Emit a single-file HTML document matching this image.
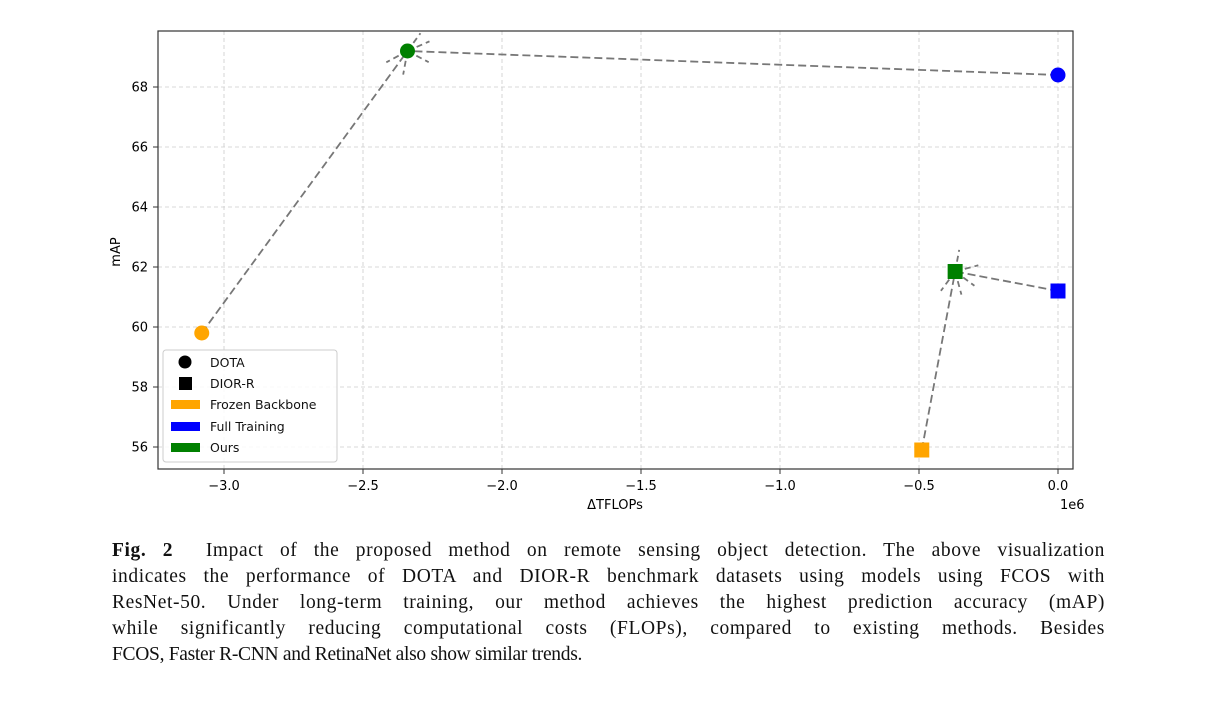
<!DOCTYPE html>
<html><head><meta charset="utf-8"><style>
body{margin:0;background:#fff;width:1220px;height:714px;overflow:hidden;position:relative}
svg{position:absolute;left:0;top:0}
#cap{position:absolute;left:112px;top:538px;width:993px;font-family:"Liberation Serif",serif;font-size:19.5px;line-height:26px;color:#111}
#cap div{text-align:justify;text-align-last:justify;white-space:nowrap;letter-spacing:0.6px}
#cap div.last{text-align-last:left;letter-spacing:-0.3px}
</style></head><body>
<svg width="1220" height="540">
<g id="grid"></g><g id="ticks"></g><g id="lines"></g><g id="marks"></g>
<rect x="158" y="31" width="915" height="438" fill="none" stroke="#333" stroke-width="1.2"/>
<text x="615" y="509" text-anchor="middle" font-family="DejaVu Sans,sans-serif" font-size="13">ΔTFLOPs</text>
<text x="120" y="252" text-anchor="middle" font-family="DejaVu Sans,sans-serif" font-size="13" transform="rotate(-90 120 252)">mAP</text>
<text x="1060" y="509" font-family="DejaVu Sans,sans-serif" font-size="13">1e6</text>
<g>
<rect x="163" y="350" width="174" height="112" rx="3" fill="#fff" fill-opacity="0.85" stroke="#ccc"/>
<circle cx="185" cy="362" r="6.5" fill="#000"/>
<rect x="179" y="377" width="13" height="13" fill="#000"/>
<rect x="171" y="400" width="29" height="9" fill="orange"/>
<rect x="171" y="422" width="29" height="9" fill="blue"/>
<rect x="171" y="443" width="29" height="9" fill="green"/>
<g font-family="DejaVu Sans,sans-serif" font-size="12.5" fill="#111">
<text x="210" y="367">DOTA</text><text x="210" y="388">DIOR-R</text><text x="210" y="409">Frozen Backbone</text><text x="210" y="431">Full Training</text><text x="210" y="452">Ours</text></g>
</g>
</svg>
<div id="cap">
<div><b>Fig. 2</b>&nbsp; Impact of the proposed method on remote sensing object detection. The above visualization</div>
<div>indicates the performance of DOTA and DIOR-R benchmark datasets using models using FCOS with</div>
<div>ResNet-50. Under long-term training, our method achieves the highest prediction accuracy (mAP)</div>
<div>while significantly reducing computational costs (FLOPs), compared to existing methods. Besides</div>
<div class="last">FCOS, Faster R-CNN and RetinaNet also show similar trends.</div>
</div>
<script>
const xTicks=[-3.0,-2.5,-2.0,-1.5,-1.0,-0.5,0.0];
const xTickLabels=["−3.0","−2.5","−2.0","−1.5","−1.0","−0.5","0.0"];
const yTicks=[56,58,60,62,64,66,68];
const methods=["Frozen Backbone","Ours","Full Training"];
const colors=["orange","green","blue"];
const dotaX=[-3.08,-2.34,0.0];
const dotaY=[59.8,69.2,68.4];
const diorX=[-0.49,-0.37,0.0];
const diorY=[55.9,61.85,61.2];
const sx=v=>1058+v*278;
const sy=v=>87+(68-v)*30;
const NS="http://www.w3.org/2000/svg";
function mk(p,t,a){const e=document.createElementNS(NS,t);for(const k in a)e.setAttribute(k,a[k]);document.getElementById(p).appendChild(e);return e;}
xTicks.forEach((v,i)=>{
 const g=mk('grid','line',{x1:sx(v),x2:sx(v),y1:31,y2:469,stroke:'#ccc','stroke-dasharray':'4,3','stroke-width':0.8});
 
 
 mk('ticks','line',{x1:sx(v),x2:sx(v),y1:469,y2:474,stroke:'#333'});
 const t=mk('ticks','text',{x:sx(v),y:490,'text-anchor':'middle','font-family':'DejaVu Sans,sans-serif','font-size':13});
 t.textContent=xTickLabels[i];
 
 
});
yTicks.forEach(v=>{
 const g=mk('grid','line',{x1:158,x2:1073,y1:sy(v),y2:sy(v),stroke:'#ccc','stroke-dasharray':'4,3','stroke-width':0.8});
 
 
 mk('ticks','line',{x1:153,x2:158,y1:sy(v),y2:sy(v),stroke:'#333'});
 const t=mk('ticks','text',{x:148,y:sy(v)+4.5,'text-anchor':'end','font-family':'DejaVu Sans,sans-serif','font-size':13});
 t.textContent=v;
 
 
});
function arrow(x1,y1,x2,y2){
 const l=mk('lines','line',{x1:sx(x1),y1:sy(y1),x2:sx(x2),y2:sy(y2),stroke:'#777','stroke-width':1.8,'stroke-dasharray':'8,4'});
 
 
 const X=sx(x2),Y=sy(y2),a=Math.atan2(sy(y1)-Y,sx(x1)-X);
 [0.45,-0.45].forEach(d=>{mk('lines','line',{x1:X,y1:Y,x2:X+24*Math.cos(a+d),y2:Y+24*Math.sin(a+d),stroke:'#777','stroke-width':1.8,'stroke-dasharray':'6,4'});});
}
function series(xs,ys,shape){
 arrow(xs[0],ys[0],xs[1],ys[1]);arrow(xs[2],ys[2],xs[1],ys[1]);
 const gx=sx(xs[1]),gy=sy(ys[1]),a=Math.atan2(gy-sy(ys[0]),gx-sx(xs[0]));
 mk('lines','line',{x1:gx,y1:gy,x2:gx+22*Math.cos(a),y2:gy+22*Math.sin(a),stroke:'#777','stroke-width':1.8,'stroke-dasharray':'6,4'});
 xs.forEach((x,i)=>{
  let e;
  if(shape==='c') e=mk('marks','circle',{cx:sx(x),cy:sy(ys[i]),r:7.5,fill:colors[i]});
  else e=mk('marks','rect',{x:sx(x)-7.5,y:sy(ys[i])-7.5,width:15,height:15,fill:colors[i]});
  
  
 });
}
series(dotaX,dotaY,'c');
series(diorX,diorY,'s');
</script>
</body></html>
